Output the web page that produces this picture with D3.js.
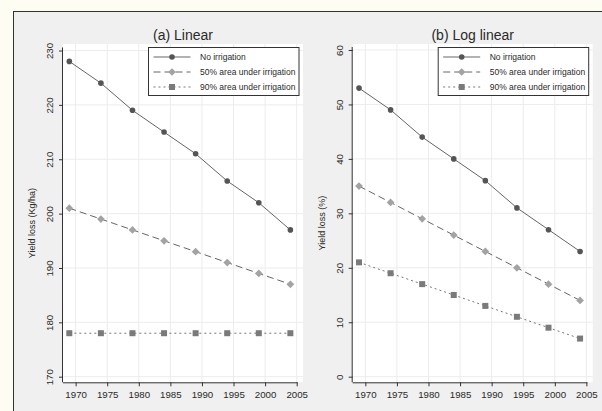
<!doctype HTML>
<html>
<head>
    <style>
        body { margin: 0; background: #fdfdf4; }
        text { font-family: "Liberation Sans", Arial, sans-serif; fill: #2a2a2a; }
        .grid line { stroke: #ececec; stroke-width: 1px; }
    </style>
    <script src="https://d3js.org/d3.v7.min.js"></script>
</head>
<body>
<script>
    var years = [1969, 1974, 1979, 1984, 1989, 1994, 1999, 2004];
    var linNone = [228, 224, 219, 215, 211, 206, 202, 197];
    var lin50 = [201, 199, 197, 195, 193, 191, 189, 187];
    var lin90 = [178, 178, 178, 178, 178, 178, 178, 178];
    var logNone = [53, 49, 44, 40, 36, 31, 27, 23];
    var log50 = [35, 32, 29, 26, 23, 20, 17, 14];
    var log90 = [21, 19, 17, 15, 13, 11, 9, 7];
    var xTicks = [1970, 1975, 1980, 1985, 1990, 1995, 2000, 2005];
    var yTicksA = [170, 180, 190, 200, 210, 220, 230];
    var yTicksB = [0, 10, 20, 30, 40, 50, 60];
    var seriesNames = ["No irrigation", "50% area under irrigation", "90% area under irrigation"];

    var svg = d3.select("body").append("svg")
        .attr("width", 602)
        .attr("height", 411)

    // outer frame
    svg.append("rect")
        .attr("x", 13.5).attr("y", 11.5)
        .attr("width", 620).attr("height", 420)
        .attr("fill", "#eff0ef")
        .attr("stroke", "#333")
        .attr("stroke-width", 1)

    var styles = [
        {dash: null, lineColor: "#666", marker: "circle", fill: "#555"},
        {dash: "7,4", lineColor: "#666", marker: "diamond", fill: "#a3a3a3"},
        {dash: "2,3", lineColor: "#777", marker: "square", fill: "#7a7a7a"}
    ];

    function drawPanel(left, title, yLabel, yDomain, yTicks, series) {
        var width = 240, top = 44, bottom = 382.3;
        var g = svg.append("g").attr("transform", "translate(" + left + ",0)");

        var x = d3.scaleLinear().domain([1968, 2006]).range([0, width]);
        var y = d3.scaleLinear().domain(yDomain).range([bottom, top]);

        g.append("rect")
            .attr("x", 0).attr("y", top)
            .attr("width", width).attr("height", bottom - top)
            .attr("fill", "white")

        // grid
        var grid = g.append("g").attr("class", "grid");
        grid.selectAll(".vx").data(xTicks).enter().append("line")
            .attr("x1", d => x(d)).attr("x2", d => x(d))
            .attr("y1", top).attr("y2", bottom)
        grid.selectAll(".hy").data(yTicks).enter().append("line")
            .attr("x1", 0).attr("x2", width)
            .attr("y1", d => y(d)).attr("y2", d => y(d))

        // x axis
        var xa = g.append("g")
            .attr("transform", "translate(0," + bottom + ")")
            .call(d3.axisBottom(x).tickValues(xTicks).tickFormat(d3.format("d")).tickSize(4).tickSizeOuter(0))
        xa.select(".domain").attr("stroke", "#333").attr("d", "M0,0.5H" + (x(2005) + 1));
        xa.selectAll(".tick line").attr("stroke", "#333");
        xa.selectAll("text").attr("font-size", "9.7px").attr("dy", "0.9em").attr("fill", "#2a2a2a");

        // y axis
        var ya = g.append("g")
            .call(d3.axisLeft(y).tickValues(yTicks).tickSize(4).tickSizeOuter(0))
        ya.select(".domain").attr("stroke", "#333").attr("d", "M-0.5," + bottom + "V" + (y(yTicks[yTicks.length - 1]) - 3));
        ya.selectAll(".tick line").attr("stroke", "#333");
        ya.selectAll("text")
            .attr("font-size", "9.7px")
            .attr("fill", "#2a2a2a")
            .attr("text-anchor", "middle")
            .attr("x", 0).attr("dy", 0)
            .attr("transform", "translate(-10,0) rotate(-90)")

        g.append("text")
            .attr("transform", "translate(-28," + ((top + bottom) / 2 + 10) + ") rotate(-90)")
            .attr("text-anchor", "middle")
            .attr("font-size", "9px")
            .text(yLabel)

        g.append("text")
            .attr("x", width / 2).attr("y", 40)
            .attr("text-anchor", "middle")
            .attr("font-size", "14px")
            .text(title)

        var line = d3.line().x((d, i) => x(years[i])).y(d => y(d));

        series.forEach(function(vals, s) {
            var st = styles[s];
            g.append("path")
                .datum(vals)
                .attr("d", line)
                .attr("fill", "none")
                .attr("stroke", st.lineColor)
                .attr("stroke-width", 1)
                .attr("stroke-dasharray", st.dash)
            drawMarkers(g, vals.map((v, i) => [x(years[i]), y(v)]), st);
        });

        // legend
        var lx = width - 154.5, ly = 47.5;
        var lg = g.append("g").attr("transform", "translate(" + lx + "," + ly + ")");
        lg.append("rect")
            .attr("width", 150.5).attr("height", 48)
            .attr("fill", "white").attr("stroke", "#333").attr("stroke-width", 1)
        seriesNames.forEach(function(name, s) {
            var st = styles[s];
            var ry = 9.5 + s * 15;
            lg.append("line")
                .attr("x1", 5).attr("x2", 42)
                .attr("y1", ry).attr("y2", ry)
                .attr("stroke", st.lineColor)
                .attr("stroke-dasharray", st.dash)
            drawMarkers(lg, [[23.5, ry]], st);
            lg.append("text")
                .attr("x", 51.5).attr("y", ry + 3)
                .attr("font-size", "8.5px")
                .text(name)
        });
    }

    function drawMarkers(g, pts, st) {
        if (st.marker === "circle") {
            g.selectAll(null).data(pts).enter().append("circle")
                .attr("cx", d => d[0]).attr("cy", d => d[1]).attr("r", 2.8)
                .attr("fill", st.fill)
        } else if (st.marker === "diamond") {
            g.selectAll(null).data(pts).enter().append("path")
                .attr("d", d3.symbol(d3.symbolSquare, 30))
                .attr("transform", d => "translate(" + d[0] + "," + d[1] + ") rotate(45)")
                .attr("fill", st.fill)
        } else {
            g.selectAll(null).data(pts).enter().append("rect")
                .attr("x", d => d[0] - 3).attr("y", d => d[1] - 3)
                .attr("width", 6).attr("height", 6)
                .attr("fill", st.fill)
        }
    }

    drawPanel(63, "(a) Linear", "Yield loss (Kg/ha)", [168.97, 231.2], yTicksA, [linNone, lin50, lin90]);
    drawPanel(352.7, "(b) Log linear", "Yield loss (%)", [-1.03, 61.1], yTicksB, [logNone, log50, log90]);
</script>
</body>
</html>
